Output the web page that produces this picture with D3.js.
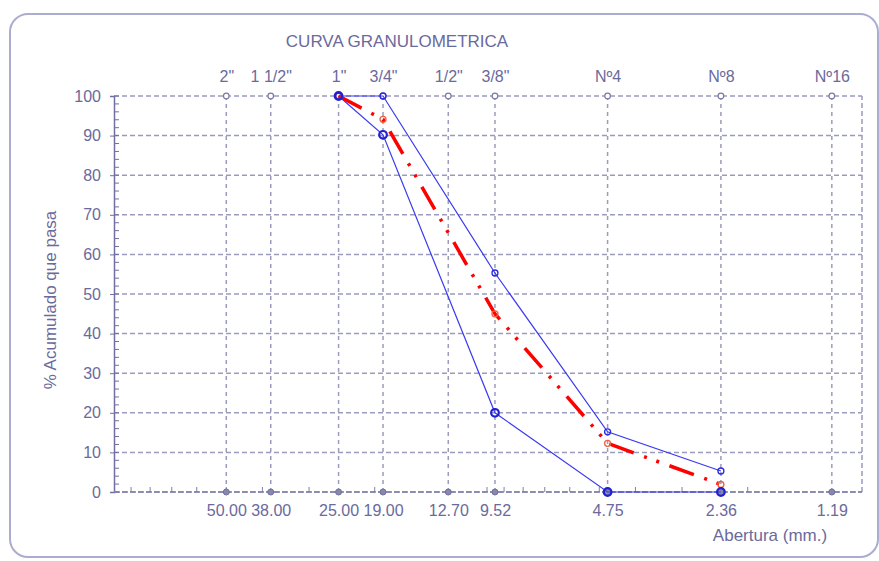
<!DOCTYPE html>
<html><head><meta charset="utf-8">
<script src="https://cdn.jsdelivr.net/npm/d3@7"></script>
<style>body{margin:0;background:#fff}svg{display:block;font-family:"Liberation Sans",Arial,sans-serif}</style>
</head><body>
<script>
// ---- data ----
const sieveNames = ['2"', '1 1/2"', '1"', '3/4"', '1/2"', '3/8"', 'Nº4', 'Nº8', 'Nº16'];
const sieveOpenings = [50.00, 38.00, 25.00, 19.00, 12.70, 9.52, 4.75, 2.36, 1.19];
const sieveLabels = ['50.00', '38.00', '25.00', '19.00', '12.70', '9.52', '4.75', '2.36', '1.19'];
const curveOpenings = [25.00, 19.00, 9.52, 4.75, 2.36];
const upperLimit = [100, 100, 55.3, 15.2, 5.3];
const lowerLimit = [100, 90.2, 20, 0, 0];
const sample = [100, 94.1, 45, 12.3, 1.9];
const yTicks = [0, 10, 20, 30, 40, 50, 60, 70, 80, 90, 100];

const W = 879, H = 561;
const txt = '#6a6a9c', grid = '#9b9bbd';
const FF = '"Liberation Sans",Arial,sans-serif';
const svg = d3.select('body').append('svg').attr('width', W).attr('height', H);

svg.append('rect').attr('x', 10).attr('y', 14).attr('width', 868).attr('height', 543)
  .attr('rx', 18).attr('fill', 'none').attr('stroke', '#acacd0').attr('stroke-width', 2);

const x = d3.scaleLog().domain([100, 1]).range([114, 860]);
const y = d3.scaleLinear().domain([0, 100]).range([492, 96]);

svg.append('text').attr('x', 397).attr('y', 47).attr('text-anchor', 'middle')
  .attr('font-size', 17).attr('fill', txt).text('CURVA GRANULOMETRICA');

const g = svg.append('g');
g.selectAll('.hg').data(yTicks).join('line')
  .attr('x1', 114).attr('x2', 862).attr('y1', d => y(d)).attr('y2', d => y(d))
  .attr('stroke', grid).attr('stroke-width', 1.5).attr('stroke-dasharray', '5,3');
g.selectAll('.vg').data(sieveOpenings).join('line')
  .attr('x1', d => x(d)).attr('x2', d => x(d)).attr('y1', y(0)).attr('y2', y(100))
  .attr('stroke', grid).attr('stroke-width', 1.5).attr('stroke-dasharray', '4,4');
g.append('line').attr('x1', 862).attr('x2', 862).attr('y1', y(0)).attr('y2', y(100))
  .attr('stroke', grid).attr('stroke-width', 1.5).attr('stroke-dasharray', '5,3');

const yAxis = d3.axisLeft(y).tickValues(yTicks).tickSize(4).tickPadding(9);
const ya = svg.append('g').attr('transform', 'translate(114,0)').call(yAxis);
ya.select('.domain').attr('stroke', '#7070a0').attr('stroke-width', 1.5);
ya.selectAll('.tick line').attr('stroke', '#7070a0');
ya.selectAll('.tick text').attr('fill', txt).attr('font-size', 16).attr('font-family', FF);
svg.append('g').selectAll('line').data(d3.range(0, 101, 2)).join('line')
  .attr('x1', 114).attr('x2', 119).attr('y1', d => y(d)).attr('y2', d => y(d))
  .attr('stroke', '#7070a0').attr('stroke-width', 1);
const minors = x.ticks().filter(v => v < 100 && v > 1);
svg.append('g').selectAll('line').data(minors).join('line')
  .attr('x1', d => x(d)).attr('x2', d => x(d)).attr('y1', 492).attr('y2', 487)
  .attr('stroke', '#8080a8').attr('stroke-width', 1);
svg.append('line').attr('x1', 114).attr('x2', 862).attr('y1', 492).attr('y2', 492)
  .attr('stroke', '#8080a8').attr('stroke-width', 1.5).attr('stroke-dasharray', '6,2');

const xb = d3.axisBottom(x).tickValues(sieveOpenings).tickFormat((d, i) => sieveLabels[i]).tickSize(0).tickPadding(13);
const xa = svg.append('g').attr('transform', 'translate(0,492)').call(xb);
xa.select('.domain').remove();
xa.selectAll('.tick text').attr('fill', txt).attr('font-size', 16).attr('font-family', FF);
const xt = d3.axisTop(x).tickValues(sieveOpenings).tickFormat((d, i) => sieveNames[i]).tickSize(0).tickPadding(14);
const xta = svg.append('g').attr('transform', 'translate(0,96)').call(xt);
xta.select('.domain').remove();
xta.selectAll('.tick text').attr('fill', txt).attr('font-size', 16).attr('font-family', FF);

svg.append('g').selectAll('circle').data(sieveOpenings).join('circle')
  .attr('cx', d => x(d)).attr('cy', y(100)).attr('r', 2.8)
  .attr('fill', '#fff').attr('stroke', '#7a7aa5').attr('stroke-width', 1.2);
svg.append('g').selectAll('circle').data(sieveOpenings).join('circle')
  .attr('cx', d => x(d)).attr('cy', y(0)).attr('r', 3)
  .attr('fill', '#8888aa').attr('stroke', '#7070a0').attr('stroke-width', 1);

svg.append('text').attr('transform', 'translate(56,300) rotate(-90)').attr('text-anchor', 'middle')
  .attr('font-size', 17).attr('fill', txt).text('% Acumulado que pasa');
svg.append('text').attr('x', 770).attr('y', 541).attr('text-anchor', 'middle')
  .attr('font-size', 17).attr('fill', txt).text('Abertura (mm.)');

const line = d3.line().x(d => x(d[0])).y(d => y(d[1]));
const pts = arr => curveOpenings.map((o, i) => [o, arr[i]]);

svg.append('path').datum(pts(upperLimit)).attr('d', line).attr('fill', 'none')
  .attr('stroke', '#3a3af0').attr('stroke-width', 1.2);
svg.append('path').datum(pts(lowerLimit)).attr('d', line).attr('fill', 'none')
  .attr('stroke', '#3a3af0').attr('stroke-width', 1.2);
svg.append('path').datum(pts(sample)).attr('d', line).attr('fill', 'none')
  .attr('stroke', '#ff0000').attr('stroke-width', 3.5).attr('stroke-dasharray', '26,11,3,10,3,11');

svg.append('g').selectAll('circle').data(pts(sample)).join('circle')
  .attr('cx', d => x(d[0])).attr('cy', d => y(d[1])).attr('r', 3)
  .attr('fill', 'none').attr('stroke', '#f06040').attr('stroke-width', 1.3);
svg.append('g').selectAll('circle').data(pts(upperLimit)).join('circle')
  .attr('cx', d => x(d[0])).attr('cy', d => y(d[1])).attr('r', 3)
  .attr('fill', 'none').attr('stroke', '#2a2ae0').attr('stroke-width', 1.3);
svg.append('g').selectAll('circle').data(pts(lowerLimit)).join('circle')
  .attr('cx', d => x(d[0])).attr('cy', d => y(d[1])).attr('r', 3.8)
  .attr('fill', 'none').attr('stroke', '#2020d0').attr('stroke-width', 2.2);
</script>
</body></html>
